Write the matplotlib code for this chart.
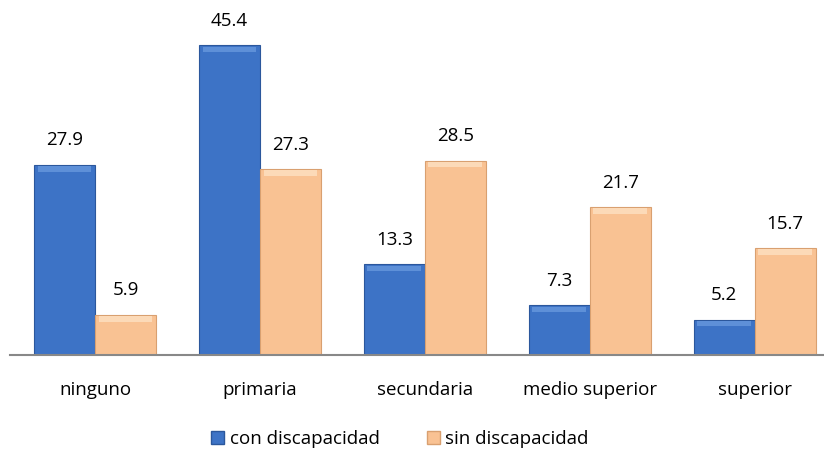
import numpy as np
import matplotlib
matplotlib.use("Agg")
import matplotlib.pyplot as plt
from matplotlib.patches import Patch

categories = ["ninguno", "primaria", "secundaria", "medio superior", "superior"]
con_disc = [27.9, 45.4, 13.3, 7.3, 5.2]
sin_disc = [5.9, 27.3, 28.5, 21.7, 15.7]
series_names = ["con discapacidad", "sin discapacidad"]

plt.rcParams['font.family'] = ['Open Sans', 'DejaVu Sans']

fig = plt.figure(figsize=(8.24, 4.57), dpi=100)
ax = fig.add_axes([10/824, 102/457, 814/824, 341/457])

x = np.arange(len(categories))
w = 0.37
blue, blue_e = '#3D73C6', '#2B579C'
orange, orange_e = '#F9C293', '#D9A070'

b1 = ax.bar(x - w/2, con_disc, w, color=blue, edgecolor=blue_e, linewidth=0.8)
b2 = ax.bar(x + w/2, sin_disc, w, color=orange, edgecolor=orange_e, linewidth=0.8)

# light cap on bar tops for the bevel look
for bars, cap in ((b1, '#5E90D8'), (b2, '#FCDAB8')):
    for r in bars:
        ax.bar(r.get_x() + r.get_width()/2, 0.8, r.get_width()*0.88,
               bottom=r.get_height() - 1.0, color=cap, linewidth=0)

for bars, vals in ((b1, con_disc), (b2, sin_disc)):
    for r, v in zip(bars, vals):
        ax.annotate(f"{v}", (r.get_x() + r.get_width()/2, v), xytext=(0, 11),
                    textcoords='offset points', ha='center', va='bottom', fontsize=13.5)

ax.set_xlim(-0.515, 4.42)
ax.set_ylim(0, 50)
ax.set_xticks(x)
ax.set_xticklabels(categories, fontsize=13.5)
ax.tick_params(axis='x', length=0, pad=19)
ax.set_yticks([])
for s in ['top', 'right', 'left']:
    ax.spines[s].set_visible(False)
ax.spines['bottom'].set_color('#888888')
ax.spines['bottom'].set_linewidth(1.5)

handles = [Patch(facecolor=blue, edgecolor=blue_e), Patch(facecolor=orange, edgecolor=orange_e)]
fig.legend(handles, series_names, loc='center', bbox_to_anchor=(400/824, 1 - 439/457),
           ncol=2, frameon=False, fontsize=13.5, handlelength=0.7, handleheight=0.7,
           handletextpad=0.3, columnspacing=2.5)

fig.savefig("out.png", dpi=100)
